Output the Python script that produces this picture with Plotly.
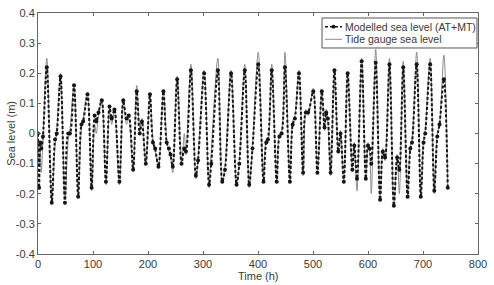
import plotly.graph_objects as go

# Key sample times (h)
time_h = [0, 2, 4, 6, 9, 16, 25, 31, 34, 41, 49, 55, 58, 65.5, 73, 79, 82, 90, 97.5,
          103, 106, 110, 116, 123.5, 130, 134, 139, 148, 155, 161, 165, 173, 179.5,
          185, 189, 196, 203.5, 209, 213, 219, 228, 234, 238, 241, 245, 253, 261,
          266, 269, 278, 287, 291, 302, 311, 315, 327, 335, 340, 351, 361, 366,
          376, 384, 390, 400.5, 410, 415, 418, 425, 434, 439, 443, 449, 458, 463,
          467, 474.5, 482, 487, 491, 500.5, 508, 516, 521, 524, 527, 532, 539,
          546, 550, 556, 563, 571.5, 575, 580, 588.5, 596, 600, 603, 606, 614,
          622, 627, 631, 639, 647, 653, 657, 664, 672, 677, 680, 688.5, 696, 701,
          704, 713, 720.5, 726, 730, 738, 745]

modelled = [0.0, -0.18, -0.03, -0.05, -0.01, 0.22, -0.23, -0.02, 0.0, 0.19, -0.23, 0.0, 0.0,
            0.16, -0.21, 0.03, 0.04, 0.13, -0.18, 0.06, 0.04, 0.07, 0.11, -0.16, 0.09,
            0.05, 0.08, -0.16, 0.11, 0.05, 0.06, -0.12, 0.14, 0.0, 0.04, -0.10, 0.13,
            -0.03, -0.05, -0.11, 0.14, -0.03, -0.05, -0.07, -0.11, 0.18, -0.10, -0.05,
            -0.06, 0.21, -0.14, -0.09, 0.20, -0.17, -0.10, 0.21, -0.16, -0.12, 0.20,
            -0.17, -0.10, 0.21, -0.17, -0.05, 0.23, -0.16, -0.03, -0.02, 0.21, -0.16,
            -0.01, 0.0, 0.22, -0.16, 0.03, 0.05, 0.20, -0.13, 0.07, 0.07, 0.14, -0.13,
            0.14, 0.02, 0.07, 0.05, -0.13, 0.21, -0.06, 0.0, -0.16, 0.20, -0.12, -0.04,
            -0.15, 0.24, -0.15, -0.04, -0.05, -0.10, 0.235, -0.22, -0.06, -0.08, 0.23,
            -0.24, -0.08, -0.12, 0.22, -0.21, -0.05, -0.03, 0.23, -0.21, -0.03, 0.0,
            0.23, -0.19, -0.01, 0.03, 0.18, -0.18]

gauge = [-0.02, -0.10, -0.05, -0.13, -0.02, 0.25, -0.22, -0.04, 0.01, 0.20, -0.22, -0.02, 0.01,
         0.16, -0.20, 0.02, 0.05, 0.13, -0.19, 0.03, 0.0, 0.06, 0.11, -0.17, 0.08,
         0.03, 0.08, -0.17, 0.11, 0.03, 0.05, -0.12, 0.16, 0.02, 0.05, -0.10, 0.13,
         -0.02, -0.06, -0.11, 0.14, -0.02, -0.06, -0.08, -0.13, 0.19, -0.10, 0.0,
         -0.07, 0.23, -0.15, -0.08, 0.21, -0.18, -0.06, 0.25, -0.16, -0.11, 0.21,
         -0.17, -0.09, 0.23, -0.18, -0.04, 0.27, -0.16, -0.02, -0.03, 0.23, -0.16,
         0.0, 0.01, 0.27, -0.16, 0.04, 0.06, 0.21, -0.14, 0.08, 0.06, 0.15, -0.13,
         0.14, 0.01, 0.08, 0.04, -0.14, 0.21, -0.06, 0.01, -0.16, 0.20, -0.12, -0.03,
         -0.19, 0.25, -0.15, -0.03, -0.06, -0.20, 0.28, -0.22, -0.05, -0.09, 0.25,
         -0.24, -0.07, -0.20, 0.24, -0.21, -0.04, -0.02, 0.27, -0.21, -0.02, 0.01,
         0.25, -0.20, 0.0, 0.03, 0.26, -0.18]

series_names = ["Modelled sea level (AT+MT)", "Tide gauge sea level"]

x_ticks = [0, 100, 200, 300, 400, 500, 600, 700, 800]
y_ticks = [-0.4, -0.3, -0.2, -0.1, 0, 0.1, 0.2, 0.3, 0.4]
y_tick_labels = ["-0.4", "-0.3", "-0.2", "-0.1", "0", "0.1", "0.2", "0.3", "0.4"]
x_tick_labels = ["0", "100", "200", "300", "400", "500", "600", "700", "800"]

FONT = "Liberation Sans, Arial"
TXT = "#3a3a3a"
MOD_COLOR = "#151515"
GAUGE_COLOR = "#8c8c8c"

fig = go.Figure()
fig.add_trace(go.Scatter(
    x=time_h, y=gauge, name=series_names[1],
    mode="lines",
    line=dict(color=GAUGE_COLOR, width=1, shape="spline", smoothing=0.9),
))
fig.add_trace(go.Scatter(
    x=time_h, y=modelled, name=series_names[0],
    mode="lines+markers",
    line=dict(color=MOD_COLOR, width=2, dash="3px,2px", shape="spline", smoothing=0.9),
    marker=dict(color=MOD_COLOR, size=4, symbol="circle"),
))

axis_common = dict(
    showgrid=False, zeroline=False, showline=True, linecolor="#666666", linewidth=1,
    mirror="ticks", ticks="inside", ticklen=3, tickcolor="#666666", automargin=False,
    tickfont=dict(family=FONT, size=11, color=TXT),
)
fig.update_xaxes(range=[0, 800], tickvals=x_ticks, ticktext=x_tick_labels, ticklabelstandoff=0,
                 **axis_common)
fig.update_yaxes(range=[-0.4, 0.4], tickvals=y_ticks, ticktext=y_tick_labels, ticklabelstandoff=0,
                 **axis_common)

fig.add_annotation(text="Time (h)", xref="paper", yref="paper", x=0.5, y=-0.091,
                   xanchor="center", yanchor="middle", showarrow=False,
                   font=dict(family=FONT, size=11, color=TXT))
fig.add_annotation(text="Sea level (m)", xref="paper", yref="paper", x=-0.063, y=0.5,
                   xanchor="center", yanchor="middle", textangle=-90, showarrow=False,
                   font=dict(family=FONT, size=11, color=TXT))

# Compact MATLAB-style legend box (top-right, inside the axes)
lg_x0, lg_x1, lg_y0, lg_y1 = 0.6455, 0.9977, 0.8548, 0.9793
row_y = [0.9432, 0.8909]
sx0, sx1, tx = 0.6523, 0.6909, 0.6943
fig.add_shape(type="rect", xref="paper", yref="paper", x0=lg_x0, x1=lg_x1, y0=lg_y0, y1=lg_y1,
              fillcolor="white", line=dict(color="#555555", width=1), layer="above")
fig.add_shape(type="line", xref="paper", yref="paper", x0=sx0, x1=sx1, y0=row_y[0], y1=row_y[0],
              line=dict(color=MOD_COLOR, width=1.5, dash="3px,2px"), layer="above")
fig.add_shape(type="circle", xref="paper", yref="paper",
              x0=(sx0 + sx1) / 2 - 0.0045, x1=(sx0 + sx1) / 2 + 0.0045,
              y0=row_y[0] - 0.008, y1=row_y[0] + 0.008,
              fillcolor=MOD_COLOR, line=dict(color=MOD_COLOR, width=0), layer="above")
fig.add_shape(type="line", xref="paper", yref="paper", x0=sx0, x1=sx1, y0=row_y[1], y1=row_y[1],
              line=dict(color=GAUGE_COLOR, width=1), layer="above")
for name, ry in zip(series_names, row_y):
    fig.add_annotation(text=name, xref="paper", yref="paper", x=tx, y=ry,
                       xanchor="left", yanchor="middle", showarrow=False,
                       font=dict(family=FONT, size=10.5, color=TXT))

fig.update_layout(
    width=494, height=285,
    margin=dict(l=38, r=16, t=13, b=31, autoexpand=False),
    paper_bgcolor="white", plot_bgcolor="white",
    showlegend=False,
)

fig.write_html("out.html", config={"displayModeBar": False},
               post_script="document.body.style.margin='0';document.body.style.padding='0';")
